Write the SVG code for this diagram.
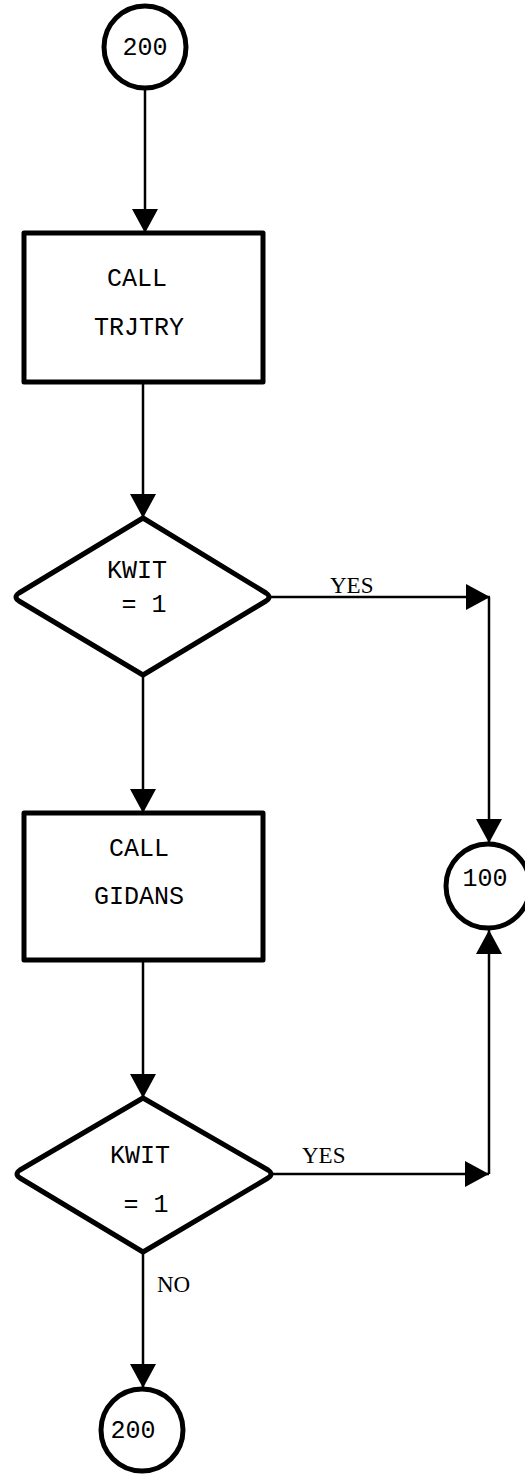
<svg xmlns="http://www.w3.org/2000/svg" width="525" height="1474" viewBox="0 0 525 1474">
<style>
.node{fill:#fff;stroke:#000;stroke-width:5;stroke-linejoin:round}
.t{font-family:"Liberation Mono","DejaVu Sans Mono",monospace;font-size:25px;fill:#000}
.lbl{font-family:"Liberation Serif","DejaVu Serif",serif;font-size:23px;fill:#000}
.c{fill:none;stroke:#000;stroke-width:2.5}
</style>
<defs>
<marker id="ah" markerWidth="24" markerHeight="26" refX="24" refY="13" orient="auto" markerUnits="userSpaceOnUse">
<path d="M0,0 L24,13 L0,26 Z" fill="#000"/>
</marker>
</defs>
<rect width="525" height="1474" fill="#fff"/>
<g id="connectors">
<line class="c" x1="145" y1="89" x2="145" y2="233" marker-end="url(#ah)"/>
<line class="c" x1="143" y1="382" x2="143" y2="518" marker-end="url(#ah)"/>
<line class="c" x1="143" y1="675" x2="143" y2="813" marker-end="url(#ah)"/>
<line class="c" x1="143" y1="960" x2="143" y2="1098" marker-end="url(#ah)"/>
<line class="c" x1="143" y1="1252" x2="143" y2="1388" marker-end="url(#ah)"/>
<line class="c" x1="270" y1="597" x2="490" y2="597" marker-end="url(#ah)"/>
<line class="c" x1="489" y1="597" x2="489" y2="843" marker-end="url(#ah)"/>
<line class="c" x1="272" y1="1174" x2="489" y2="1174" marker-end="url(#ah)"/>
<line class="c" x1="489" y1="1174" x2="489" y2="930" marker-end="url(#ah)"/>
<text class="lbl" x="330" y="593">YES</text>
<text class="lbl" x="302" y="1163">YES</text>
<text class="lbl" x="157" y="1292">NO</text>
</g>
<g id="start200">
<circle class="node" cx="145" cy="47" r="41"/>
<text class="t" x="145" y="55" text-anchor="middle">200</text>
</g>
<g id="trjtry">
<rect class="node" x="24" y="233" width="239" height="149"/>
<text class="t" x="137" y="286" text-anchor="middle">CALL</text>
<text class="t" x="139" y="335" text-anchor="middle">TRJTRY</text>
</g>
<g id="kwit1">
<path class="node" d="M143,518 L266,593 Q272,597 266,601 L143,675 L19,601 Q13,597 19,593 Z"/>
<text class="t" x="137" y="578" text-anchor="middle">KWIT</text>
<text class="t" x="144" y="612" text-anchor="middle">= 1</text>
</g>
<g id="gidans">
<rect class="node" x="24" y="813" width="239" height="147"/>
<text class="t" x="139" y="856" text-anchor="middle">CALL</text>
<text class="t" x="139" y="904" text-anchor="middle">GIDANS</text>
</g>
<g id="conn100">
<circle class="node" cx="488" cy="886" r="42"/>
<text class="t" x="485" y="886" text-anchor="middle">100</text>
</g>
<g id="kwit2">
<path class="node" d="M143,1098 L268,1170 Q274,1174 268,1178 L143,1252 L20,1178 Q14,1174 20,1170 Z"/>
<text class="t" x="140" y="1163" text-anchor="middle">KWIT</text>
<text class="t" x="146" y="1212" text-anchor="middle">= 1</text>
</g>
<g id="end200">
<circle class="node" cx="142" cy="1430" r="41"/>
<text class="t" x="133" y="1438" text-anchor="middle">200</text>
</g>
</svg>
